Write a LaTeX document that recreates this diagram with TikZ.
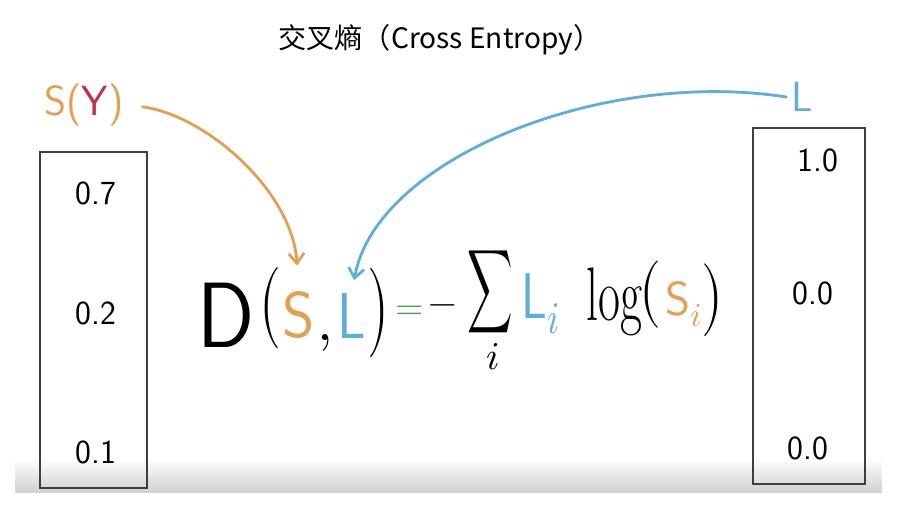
\documentclass[tikz,border=0pt]{standalone}
\usepackage{amsmath}
\usepackage{graphicx}
\usepackage{unicode-math}
\setmathfont{Latin Modern Math}
\newfontfamily\cjk{Noto Sans CJK SC}
\usetikzlibrary{arrows.meta, positioning}
\definecolor{orangeS}{RGB}{228,160,82}
\definecolor{bleuL}{RGB}{96,172,218}
\definecolor{rougeY}{RGB}{196,45,75}
\definecolor{vertEq}{RGB}{88,158,88}
\definecolor{cadre}{RGB}{62,62,62}

\begin{document}
\begin{tikzpicture}[x=0.025cm, y=-0.025cm,
		>={Straight Barb[length=7pt,width=11pt]},
		vecbox/.style={draw=cadre, line width=1.8pt, inner sep=0},
		val/.style={font=\sffamily\fontsize{24}{28}\selectfont},
		lettre/.style={anchor=base, inner sep=0, font=\fontsize{40}{46}\selectfont},
		paren/.style={inner sep=0, font=\fontsize{40}{46}\selectfont},
		petit/.style={inner sep=0, font=\fontsize{26}{30}\selectfont},
		fleche/.style={->, line width=2pt, line cap=round}
		]
		\useasboundingbox (0,0) rectangle (920,520);
		
		% bas de la capture
		\shade[top color=white, bottom color=black!18] (15,458) rectangle (882,492);
		
		\node[font=\cjk\fontsize{20}{24}\selectfont] (titre) at (440,40) {交叉熵（Cross Entropy）};
		
		% Vecteurs S et L
		\node[vecbox, minimum width=2.675cm, minimum height=8.4cm] (sbox) at (93.5,320) {};
		\node[vecbox, minimum width=2.8cm, minimum height=8.9cm] (lbox) at (809,306) {};
		\foreach \v/\x/\y [count=\k] in {0.7/96/193, 0.2/96/313, 0.1/96/452}
		\node[val] (s\k) at (\x,\y) {\v};
		\foreach \v/\x/\y [count=\k] in {1.0/818/160, 0.0/813/293, 0.0/808/448}
		\node[val] (l\k) at (\x,\y) {\v};
		
		\node[font=\sffamily\fontsize{30}{34}\selectfont, text=orangeS] (sy) at (84,105)
		{S(\textcolor{rougeY}{Y})};
		\node[font=\sffamily\fontsize{30}{34}\selectfont, text=bleuL] (lab) at (802,97) {L};
		
		% Formule : D(S,L)
		\node[lettre] (fD) at (226,347) {\scalebox{1.5}[1.65]{$\mathsf{D}$}};
		\node[paren] (fpa) at (270,308) {\scalebox{1}[1.45]{$($}};
		\node[lettre, text=orangeS] (fS) at (299,337) {\scalebox{1.1}[1.15]{$\mathsf{S}$}};
		\node[lettre] (fC) at (325,340) {$,$};
		\node[lettre, text=bleuL] (fL) at (352,338) {\scalebox{1}[1.15]{$\mathsf{L}$}};
		\node[paren] (fpb) at (378,313) {\scalebox{1}[1.6]{$)$}};
		
		% = - somme
		\node[petit, text=vertEq] (fEq) at (410,313) {$=$};
		\node[petit] (fMoins) at (443,310) {$-$};
		\node[inner sep=0, font=\fontsize{32}{38}\selectfont] (fSum) at (490,292)
		{\scalebox{0.7}[1.3]{$\displaystyle\sum$}};
		\node[inner sep=0, font=\fontsize{28}{32}\selectfont] (fi) at (493,357) {$i$};
		
		% L_i log(S_i)
		\node[lettre, anchor=base west, text=bleuL] (fLi) at (521,318)
		{\scalebox{0.9}[1.15]{$\mathsf{L}_i$}};
		\node[lettre, anchor=base west] (fLog) at (586,320) {\scalebox{0.85}[1.35]{$\log$}};
		\node[paren] (fpc) at (650,295) {\scalebox{1}[1.2]{$($}};
		\node[lettre, anchor=base west, font=\fontsize{34}{40}\selectfont, text=orangeS] (fSi) at (665,315)
		{$\mathsf{S}_i$};
		\node[paren] (fpd) at (712,300) {\scalebox{1}[1.3]{$)$}};
		
		\draw[fleche, orangeS, shorten <=10pt, shorten >=18pt] (sy.east) .. controls (205,115) and (292,190) .. (fS.north);
		\draw[fleche, bleuL, shorten >=9pt] (lab.west) .. controls (600,68) and (375,160) .. (fL.north);
	\end{tikzpicture}
\end{document}
